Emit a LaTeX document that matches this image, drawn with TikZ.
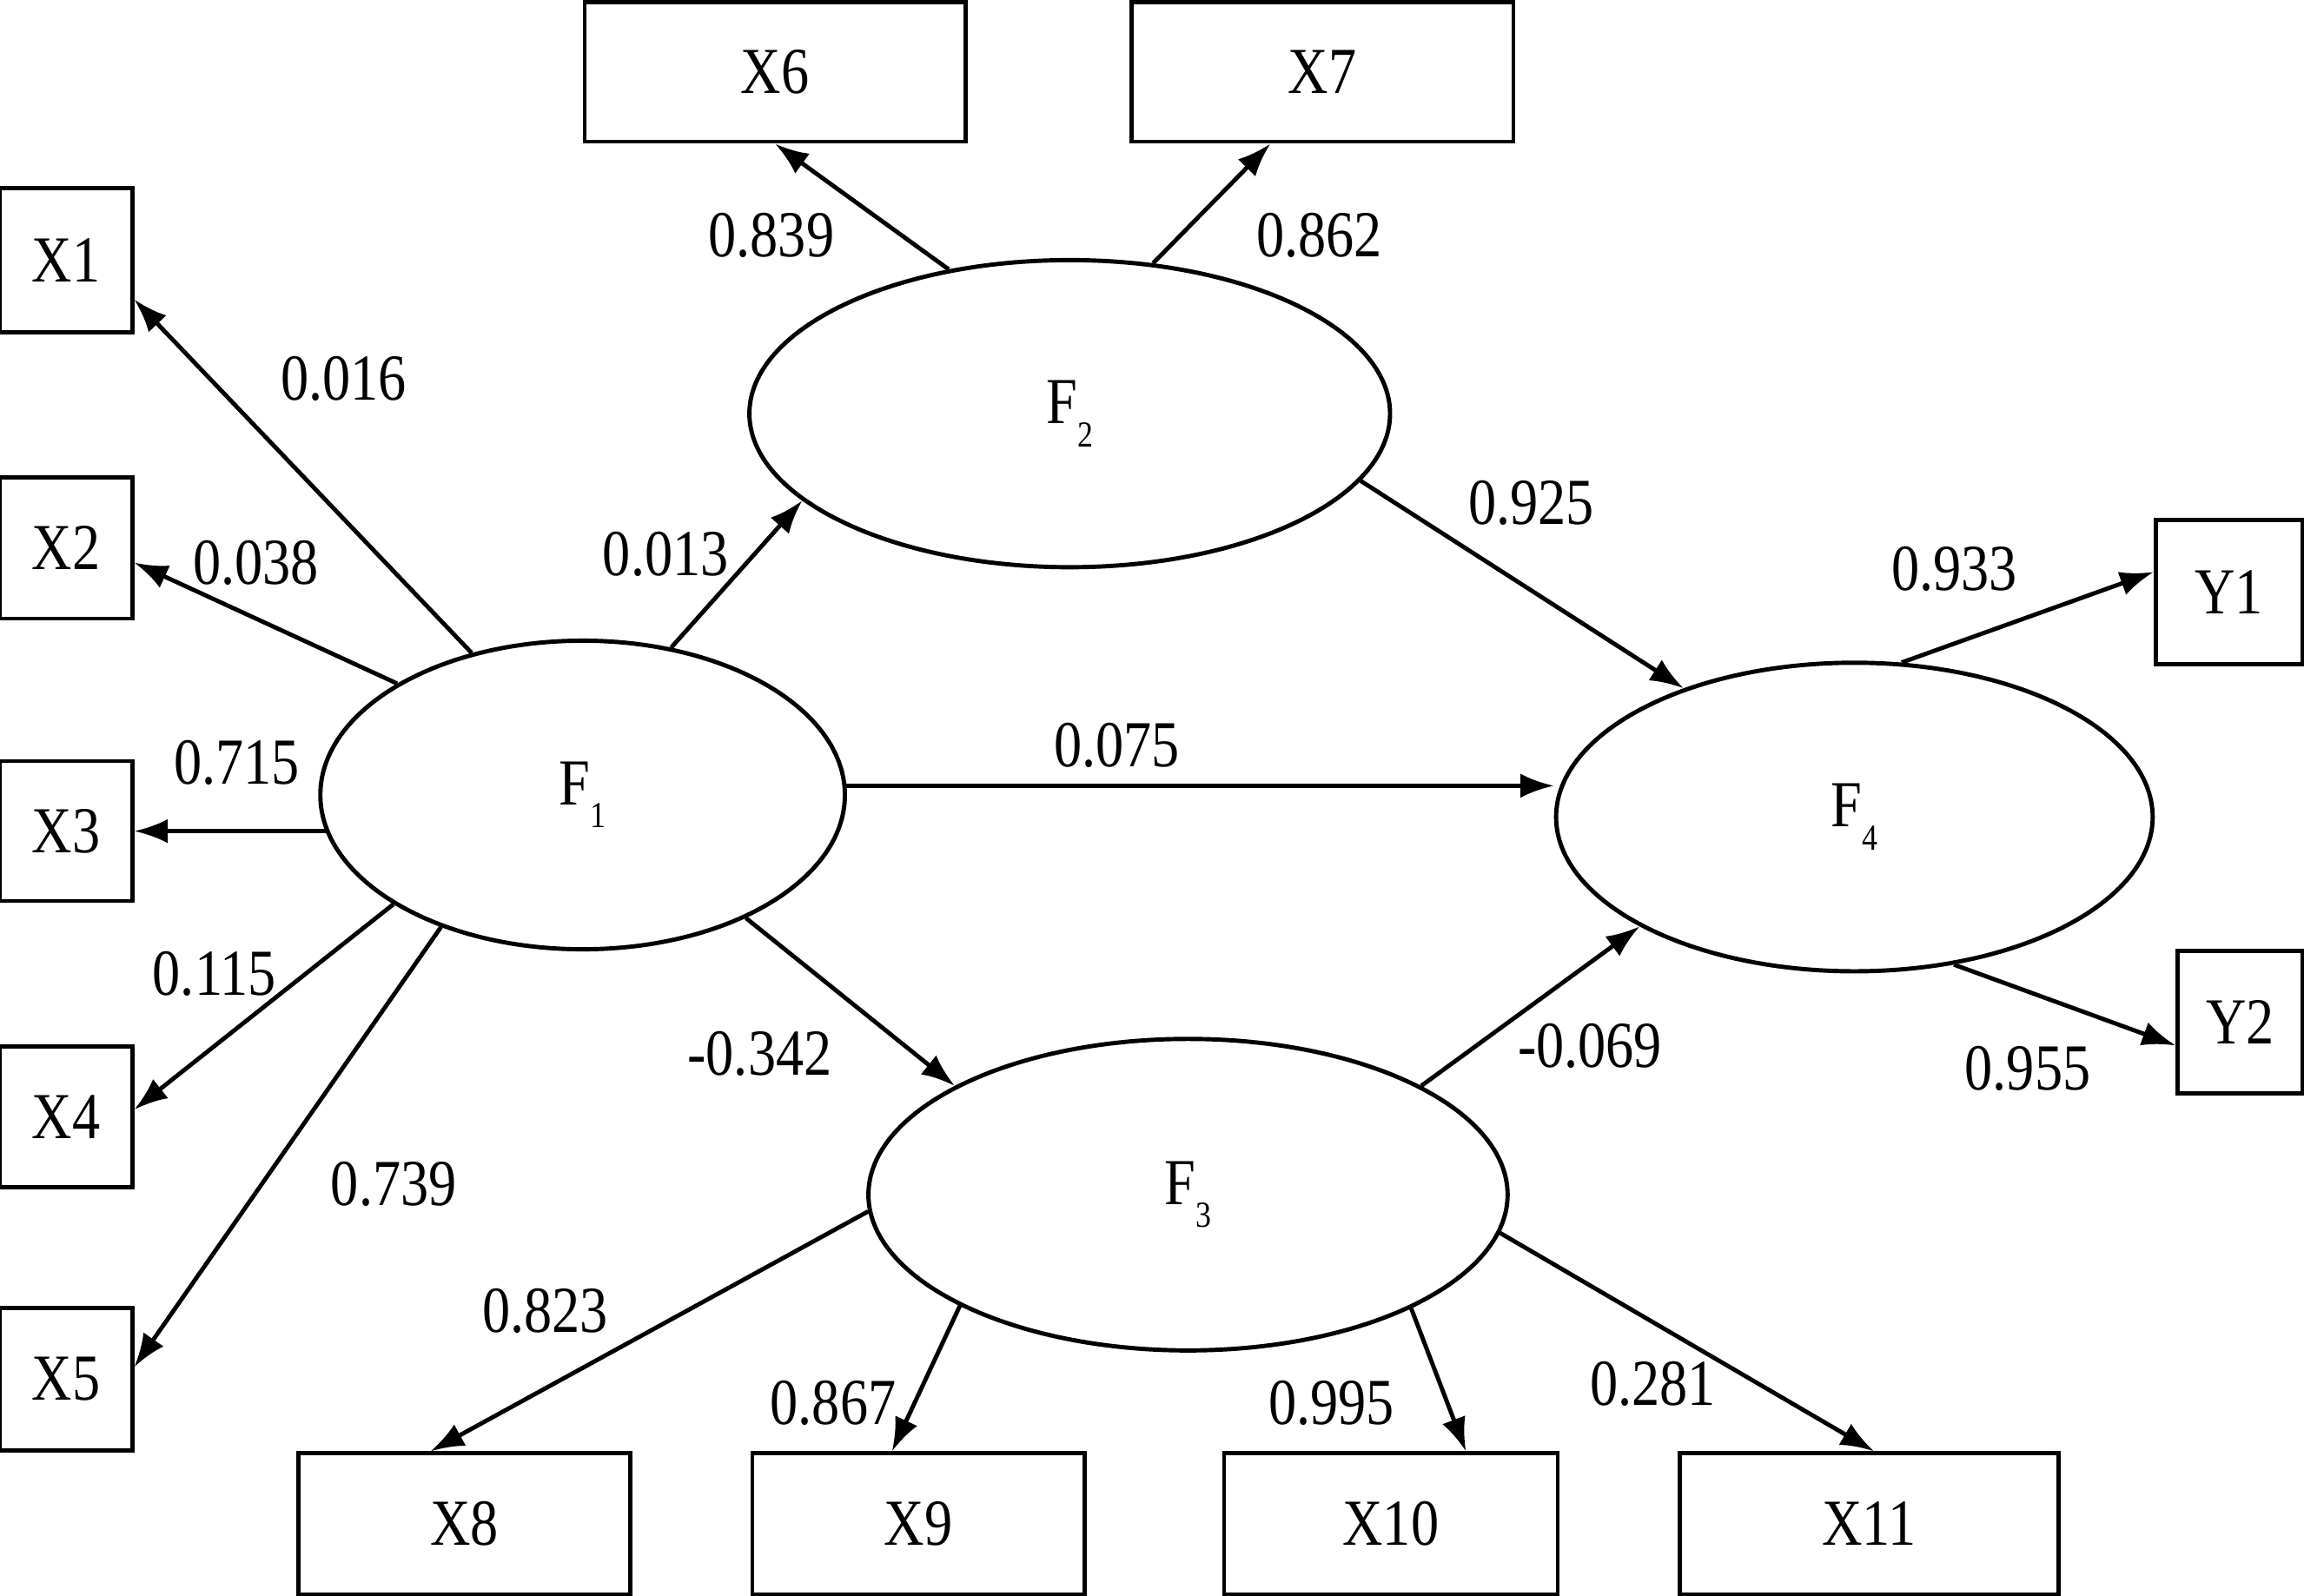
\documentclass[tikz,border=0pt]{standalone}
\usepackage{fontspec}
\setmainfont{Liberation Serif}[FakeStretch=0.85]
\usetikzlibrary{arrows.meta,shapes.geometric}
\def\pu{0.016913cm}
\newcommand{\Fsub}[1]{F\raisebox{-0.35em}{\fontsize{12}{12}\selectfont #1}}
\begin{document}
\begin{tikzpicture}[x=\pu, y=-\pu,
  txt/.style={font=\fontsize{21.5}{24}\selectfont},
  obs/.style={draw, line width=1.3pt, inner sep=0pt, txt},
  lat/.style={draw, ellipse, line width=1.4pt, inner sep=0pt, txt},
  arr/.style={-{Latex[length=11pt,width=8pt]}, line width=1.4pt},
  lbl/.style={inner sep=0pt, txt}]
\useasboundingbox (0,0) rectangle (1568,1086);
% observed boxes
\node[obs, minimum width=90*\pu, minimum height=98*\pu] (X1) at (45,177) {X1};
\node[obs, minimum width=90*\pu, minimum height=96*\pu] (X2) at (45,373) {X2};
\node[obs, minimum width=90*\pu, minimum height=95*\pu] (X3) at (45,565.5) {X3};
\node[obs, minimum width=90*\pu, minimum height=96*\pu] (X4) at (45,760) {X4};
\node[obs, minimum width=90*\pu, minimum height=97*\pu] (X5) at (45,938.5) {X5};
\node[obs, minimum width=259*\pu, minimum height=95*\pu] (X6) at (527.5,49) {X6};
\node[obs, minimum width=260*\pu, minimum height=95*\pu] (X7) at (900,49) {X7};
\node[obs, minimum width=226*\pu, minimum height=96*\pu] (X8) at (316,1037) {X8};
\node[obs, minimum width=226*\pu, minimum height=96*\pu] (X9) at (625,1037) {X9};
\node[obs, minimum width=227*\pu, minimum height=96*\pu] (X10) at (946.5,1037) {X10};
\node[obs, minimum width=258*\pu, minimum height=96*\pu] (X11) at (1272,1037) {X11};
\node[obs, minimum width=100*\pu, minimum height=98*\pu] (Y1) at (1517,403) {Y1};
\node[obs, minimum width=85*\pu, minimum height=97*\pu] (Y2) at (1524.5,695.5) {Y2};
% latent ellipses
\node[lat, minimum width=357*\pu, minimum height=210*\pu] (F1) at (396.5,541) {\Fsub{1}};
\node[lat, minimum width=436*\pu, minimum height=209*\pu] (F2) at (728,281.5) {\Fsub{2}};
\node[lat, minimum width=435*\pu, minimum height=212*\pu] (F3) at (808.5,813) {\Fsub{3}};
\node[lat, minimum width=406*\pu, minimum height=210*\pu] (F4) at (1262,556) {\Fsub{4}};
% connectors
\draw[arr] (F1.128.3) -- (X1.-30);
\draw[arr] (F1.149.3) -- (X2.-12.5);
\draw[arr] (F1.188.3) -- (X3.east |- F1.188.3);
\draw[arr] (F1.210.2) -- (X4.6.3);
\draw[arr] (F1.223) -- (X5.10.7);
\draw[arr] (F1.59.9) -- (F2.198.8);
\draw[arr] (F1.2) -- (F4.west |- F1.2);
\draw[arr] (F1.-37.3) -- (F3.155.6);
\draw[arr] (F2.130.6) -- (X6.south);
\draw[arr] (F2.61.2) -- (X7.234.7);
\draw[arr] (F2.-13.1) -- (F4.143.9);
\draw[arr] (F3.183) -- (X8.115.6);
\draw[arr] (F3.206.5) -- (X9.110.6);
\draw[arr] (F3.-27.2) -- (X10.44.7);
\draw[arr] (F3.-7.9) -- (X11.86.4);
\draw[arr] (F3.25) -- (F4.207.5);
\draw[arr] (F4.73.5) -- (Y1.165.4);
\draw[arr] (F4.-56.6) -- (Y2.200);
% coefficient labels
\node[lbl] (l1) at (234,258) {0.016};
\node[lbl] (l2) at (174,383) {0.038};
\node[lbl] (l3) at (161,519) {0.715};
\node[lbl] (l4) at (146,663) {0.115};
\node[lbl] (l5) at (268,806) {0.739};
\node[lbl] (l6) at (453,377) {0.013};
\node[lbl] (l7) at (525,160) {0.839};
\node[lbl] (l8) at (898,160) {0.862};
\node[lbl] (l9) at (1042,342) {0.925};
\node[lbl] (l10) at (760,507) {0.075};
\node[lbl] (l11) at (517,717) {-0.342};
\node[lbl] (l12) at (1330,387) {0.933};
\node[lbl] (l13) at (1380,727) {0.955};
\node[lbl] (l14) at (1082,712) {-0.069};
\node[lbl] (l15) at (371,892) {0.823};
\node[lbl] (l16) at (567,955) {0.867};
\node[lbl] (l17) at (906,955) {0.995};
\node[lbl] (l18) at (1125,942) {0.281};
\end{tikzpicture}
\end{document}
